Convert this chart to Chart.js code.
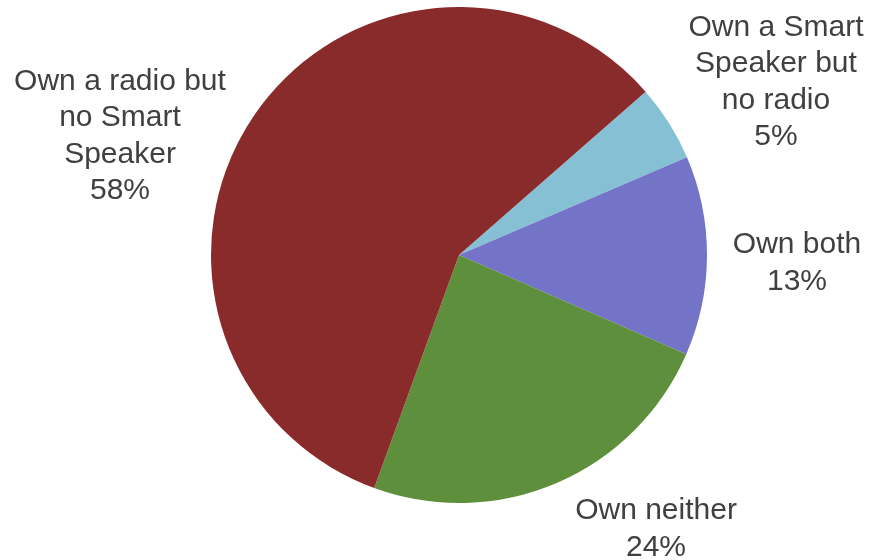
<!DOCTYPE html>
<html>
<head>
<meta charset="utf-8">
<script src="https://cdn.jsdelivr.net/npm/chart.js@4/dist/chart.umd.min.js"></script>
<style>
  html, body { margin: 0; padding: 0; background: #ffffff; }
  #wrap { width: 870px; height: 560px; position: relative; }
</style>
</head>
<body>
<div id="wrap"><canvas id="chart"></canvas></div>
<script>
// Ownership of radios and smart speakers (share of respondents)
const categories = [
  ["Own a Smart", "Speaker but", "no radio"],
  ["Own both"],
  ["Own neither"],
  ["Own a radio but", "no Smart", "Speaker"]
];
const shares = [5, 13, 24, 58];
const sliceColors = ["#86C0D4", "#7373C7", "#5E8F3C", "#8A2B2B"];

// Where each label block sits, relative to the pie centre (px)
const labelOffsets = [
  { dx: 317, dy: -173 },
  { dx: 338, dy: 8 },
  { dx: 197, dy: 274 },
  { dx: -339, dy: -119 }
];

const sliceLabels = {
  id: "sliceLabels",
  afterDraw(chart) {
    const ctx = chart.ctx;
    const arcs = chart.getDatasetMeta(0).data;
    const lineH = 36.5;
    ctx.save();
    ctx.font = '30px "Liberation Sans", Arial, sans-serif';
    ctx.fillStyle = "#404040";
    ctx.textAlign = "center";
    ctx.textBaseline = "middle";
    arcs.forEach((arc, i) => {
      const lines = categories[i].concat([shares[i] + "%"]);
      const cx = arc.x + labelOffsets[i].dx;
      const cy = arc.y + labelOffsets[i].dy;
      const top = cy - (lines.length - 1) * lineH / 2;
      lines.forEach((t, j) => ctx.fillText(t, cx, top + j * lineH));
    });
    ctx.restore();
  }
};

new Chart(document.getElementById("chart"), {
  type: "pie",
  data: {
    labels: categories.map(c => c.join(" ")),
    datasets: [{
      data: shares,
      backgroundColor: sliceColors,
      borderWidth: 0
    }]
  },
  options: {
    responsive: true,
    maintainAspectRatio: false,
    animation: false,
    rotation: 48.8,
    layout: { padding: { left: 211, right: 163, top: 7, bottom: 57 } },
    plugins: {
      legend: { display: false },
      tooltip: { enabled: false }
    }
  },
  plugins: [sliceLabels]
});
</script>
</body>
</html>
